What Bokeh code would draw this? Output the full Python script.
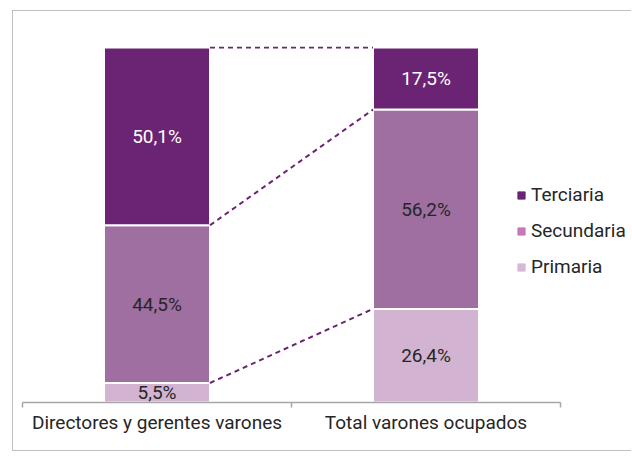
from bokeh.plotting import figure
from bokeh.models import FixedTicker, Legend, LegendItem, ColumnDataSource, Range1d
from bokeh.core.properties import value
from bokeh.embed import file_html
from bokeh.resources import INLINE

categories = ["Directores y gerentes varones", "Total varones ocupados"]
series = ["Primaria", "Secundaria", "Terciaria"]
primaria = [5.5, 26.4]
secundaria = [44.5, 56.2]
terciaria = [50.1, 17.5]
labels_primaria = ["5,5%", "26,4%"]
labels_secundaria = ["44,5%", "56,2%"]
labels_terciaria = ["50,1%", "17,5%"]
legend_order = ["Terciaria", "Secundaria", "Primaria"]

bar_colors = {"Primaria": "#D2B4D2", "Secundaria": "#9E6FA0", "Terciaria": "#6B2474"}
legend_colors = {"Terciaria": "#6B2474", "Secundaria": "#C878B8", "Primaria": "#D7B8D7"}
FONT = "Roboto"
FS = "19px"
BW = 0.394
NCAT = len(categories)
XEND = NCAT * 605 / 538  # frame extends past the axis to hold the legend

xpos = [i + 0.5 for i in range(NCAT)]

p = figure(width=619, height=441, output_backend="svg", toolbar_location=None,
           x_range=Range1d(0, XEND), y_range=Range1d(0, 100.4),
           min_border_left=9, min_border_right=5, min_border_top=35, min_border_bottom=50,
           y_axis_location=None)
p.margin = (10, 0, 0, 12)
p.styles = {"border-left": "1px solid #BFBFBF", "border-top": "1px solid #BFBFBF",
            "border-bottom": "1px solid #BFBFBF"}
p.outline_line_color = None
p.xgrid.visible = False
p.ygrid.visible = False
p.background_fill_color = "white"
p.border_fill_color = "white"

src = ColumnDataSource(dict(x=xpos, Primaria=primaria, Secundaria=secundaria, Terciaria=terciaria))
p.vbar_stack(series, x="x", width=BW, source=src,
             color=[bar_colors[s] for s in series], line_color="white", line_width=2)

# value labels
cum0 = [0] * NCAT
segs = [(primaria, labels_primaria, "#262626"), (secundaria, labels_secundaria, "#262626"),
        (terciaria, labels_terciaria, "white")]
tops = []
for vals, labs, col in segs:
    ys = [c + v / 2 for c, v in zip(cum0, vals)]
    cum0 = [c + v for c, v in zip(cum0, vals)]
    tops.append(list(cum0))
    p.text(x=xpos, y=ys, text=labs, text_align="center", text_baseline="middle",
           text_font=value(FONT), text_font_size=FS, text_color=col)

# dashed series lines
for t in tops:
    p.segment(x0=[xpos[0] + BW / 2], y0=[t[0]], x1=[xpos[1] - BW / 2], y1=[t[1]],
              line_color="#6B2474", line_width=2, line_dash="5 4")

# axis
ax = p.xaxis[0]
ax.bounds = (0, NCAT)
ax.ticker = FixedTicker(ticks=xpos, minor_ticks=list(range(NCAT + 1)))
ax.major_label_overrides = {x: c for x, c in zip(xpos, categories)}
ax.major_tick_line_color = None
ax.major_tick_out = 0
ax.major_tick_in = 0
ax.minor_tick_line_color = "#A6A6A6"
ax.minor_tick_out = 5
ax.minor_tick_in = 0
ax.axis_line_color = "#A6A6A6"
ax.axis_line_width = 1.5
ax.minor_tick_line_width = 1.5
ax.major_label_standoff = 3
ax.major_label_text_font = FONT
ax.major_label_text_font_size = FS
ax.major_label_text_color = "#262626"

nan = float("nan")
items = []
for name in legend_order:
    r = p.scatter(x=[nan], y=[nan], marker="square", size=8, color=legend_colors[name])
    items.append(LegendItem(label=name, renderers=[r]))
leg = Legend(items=items, location=(490, 124), glyph_width=18, glyph_height=18,
             label_height=20, spacing=13, label_standoff=1, padding=0, margin=0,
             border_line_color=None, background_fill_alpha=0,
             label_text_font=FONT, label_text_font_size=FS, label_text_color="#262626")
p.add_layout(leg)

open("out.html", "w").write(file_html(p, INLINE))
